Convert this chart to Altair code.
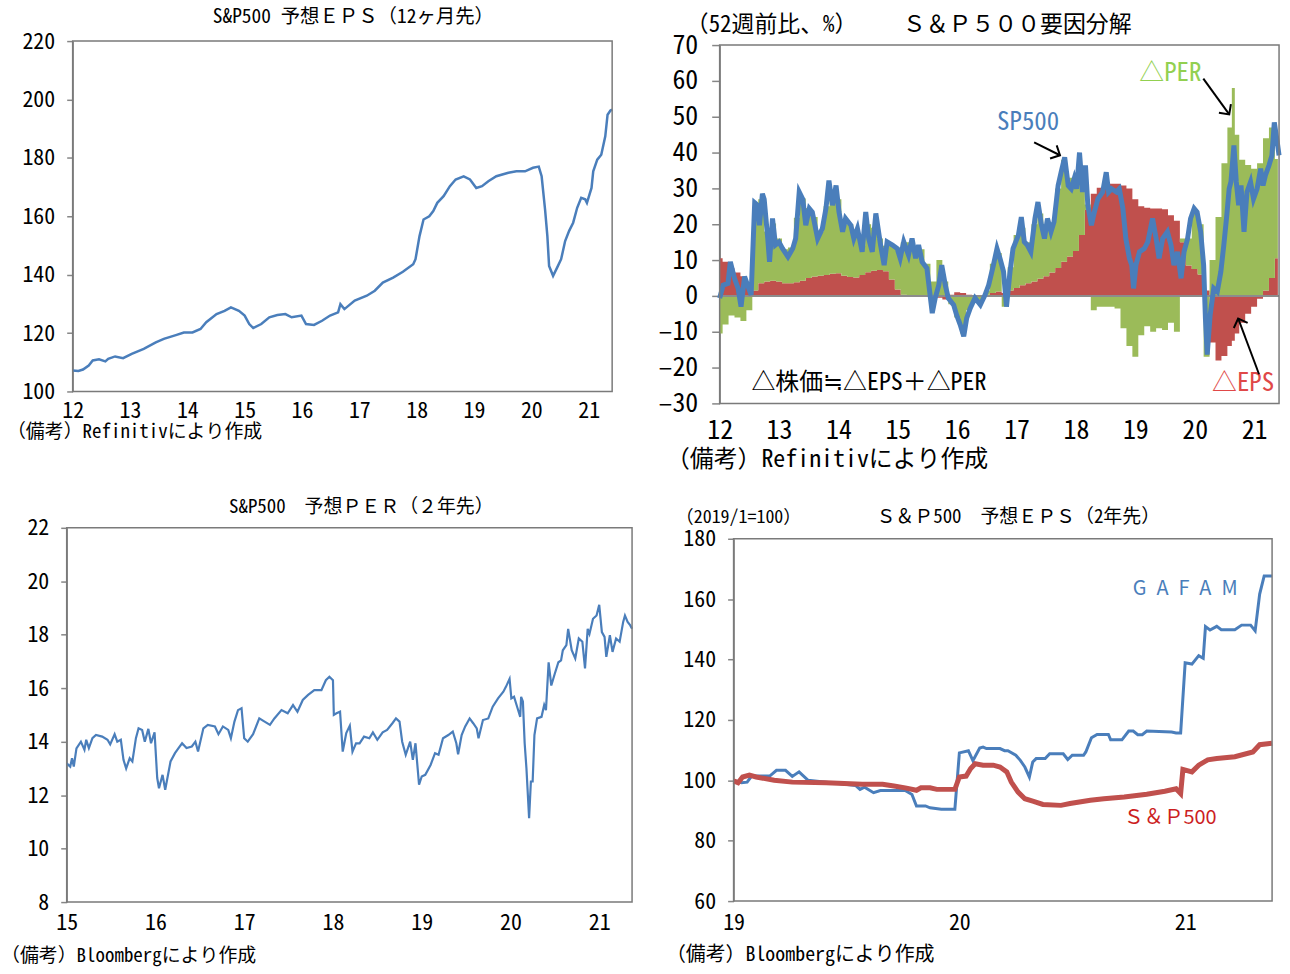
import altair as alt
import pandas as pd

# ---------------- data ----------------
# Panel 1: S&P500 forward EPS (12 months ahead); t = year (12 = 2012)
EPS12_T = [12.0, 12.1, 12.18, 12.28, 12.35, 12.46, 12.57, 12.62, 12.74, 12.88, 13.03, 13.24, 13.45,
           13.59, 13.8, 13.94, 14.09, 14.23, 14.33, 14.51, 14.65, 14.76, 14.9, 15.0, 15.08, 15.15,
           15.29, 15.43, 15.57, 15.71, 15.82, 15.99, 16.07, 16.21, 16.35, 16.49, 16.63, 16.67, 16.74,
           16.92, 17.13, 17.27, 17.41, 17.59, 17.76, 17.94, 17.98, 18.05, 18.12, 18.22, 18.29, 18.36,
           18.47, 18.58, 18.68, 18.82, 18.93, 19.04, 19.14, 19.25, 19.39, 19.6, 19.74, 19.89, 20.03,
           20.13, 20.18, 20.24, 20.28, 20.31, 20.38, 20.45, 20.52, 20.59, 20.66, 20.73, 20.8, 20.87,
           20.94, 20.97, 21.05, 21.08, 21.15, 21.22, 21.29, 21.33, 21.38, 21.41]
EPS12_V = [107.2, 107.0, 107.5, 108.9, 110.6, 111.0, 110.3, 111.2, 112.0, 111.4, 112.9, 114.6, 116.8,
           118.0, 119.3, 120.2, 120.2, 121.4, 123.7, 126.5, 127.6, 128.8, 127.6, 126.0, 123.1, 121.7,
           123.1, 125.4, 126.2, 126.5, 125.4, 126.0, 123.1, 122.8, 124.2, 126.0, 127.1, 129.9, 128.2,
           131.1, 132.8, 134.5, 137.3, 139.0, 141.0, 143.6, 145.3, 153.2, 158.9, 160.0, 161.8, 164.6,
           166.9, 170.3, 172.6, 173.7, 172.6, 169.7, 170.3, 172.0, 173.7, 174.9, 175.4, 175.4, 176.6,
           177.0, 173.7, 162.3, 153.2, 143.0, 139.6, 142.4, 145.3, 151.5, 155.0, 157.8, 162.9, 166.3,
           165.8, 164.6, 169.7, 175.4, 179.4, 181.1, 187.4, 194.8, 196.2, 196.5]

# Panel 2: S&P500 decomposition (52-week change, %)
DEC_T = [12.0, 12.1, 12.2, 12.3, 12.4, 12.5, 12.6, 12.7, 12.8, 12.9, 13.0, 13.1, 13.2, 13.3, 13.4,
         13.5, 13.6, 13.7, 13.8, 13.9, 14.0, 14.1, 14.2, 14.3, 14.4, 14.5, 14.6, 14.7, 14.8, 14.9,
         15.0, 15.1, 15.2, 15.3, 15.4, 15.5, 15.6, 15.7, 15.8, 15.9, 16.0, 16.1, 16.2, 16.3, 16.4,
         16.5, 16.6, 16.7, 16.8, 16.9, 17.0, 17.1, 17.2, 17.3, 17.4, 17.5, 17.6, 17.7, 17.8, 17.9,
         18.0, 18.1, 18.2, 18.3, 18.4, 18.5, 18.6, 18.7, 18.8, 18.9, 19.0, 19.1, 19.2, 19.3, 19.4,
         19.5, 19.6, 19.7, 19.8, 19.9, 20.0, 20.1, 20.2, 20.3, 20.4, 20.5, 20.6, 20.65, 20.7, 20.8,
         20.9, 21.0, 21.1, 21.2, 21.3, 21.4]
DEC_EPS = [10.5, 9.5, 7.7, 6.5, 5.5, 3.0, 1.5, 3.5, 4.0, 4.2, 4.0, 3.5, 3.5, 3.8, 4.2,
           5.0, 5.4, 5.6, 5.8, 6.2, 6.3, 5.6, 5.3, 5.1, 5.8, 6.6, 7.0, 7.2, 6.9, 4.6,
           1.8, 0.3, -0.2, -0.3, 0.0, -0.1, 0.0, -0.5, -1.0, 0.3, 1.0, 0.8, 0.3, 0.0, 0.1,
           0.3, 0.8, 1.2, 0.8, 1.5, 2.2, 3.0, 3.5, 4.0, 4.8, 5.5, 6.5, 7.8, 9.5, 11.0,
           12.5, 17.0, 24.0, 28.5, 30.2, 31.0, 31.3, 31.3, 30.8, 30.0, 27.0, 25.0, 24.6, 24.4, 24.4,
           24.2, 22.5, 21.0, 15.0, 8.5, 7.5, 6.0, 1.5, -13.0, -18.0, -16.8, -14.0, -12.5, -10.5, -7.5,
           -5.0, -3.0, -0.8, 1.5, 5.0, 10.5]
DEC_PER = [-10.5, -8.0, -5.5, -6.0, -7.0, -4.0, 23.0, 23.5, 14.0, 16.0, 12.0, 9.5, 10.0, 18.0, 23.0,
           19.5, 16.6, 12.4, 19.2, 21.8, 20.7, 14.4, 14.7, 12.9, 8.2, 13.4, 12.0, 8.8, 7.1, 9.9,
           11.7, 14.7, 15.0, 14.0, 13.0, 9.0, 4.0, 10.0, 4.0, -2.3, -6.0, -10.5, -4.0, -1.0, -2.0,
           1.2, 8.2, 10.8, -3.0, 6.5, 14.8, 16.0, 11.5, 16.0, 18.2, 14.5, 13.5, 22.2, 28.5, 22.0,
           20.5, 19.0, 1.5, -4.0, -3.0, -3.0, -3.0, -3.5, -9.0, -14.0, -17.0, -11.0, -8.5, -10.0, -9.0,
           -9.5, -7.5, -10.0, 1.0, 7.5, 15.5, 14.0, -17.0, 10.0, 22.0, 37.0, 47.0, 58.0, 45.0, 38.0,
           36.5, 35.5, 37.0, 42.5, 42.0, 27.7]
SP_T = [12.0, 12.06, 12.14, 12.18, 12.25, 12.31, 12.36, 12.42, 12.47, 12.53, 12.59, 12.64, 12.67,
        12.72, 12.75, 12.81, 12.84, 12.89, 12.94, 13.0, 13.06, 13.15, 13.23, 13.28, 13.34, 13.4,
        13.45, 13.51, 13.56, 13.65, 13.73, 13.79, 13.84, 13.9, 13.96, 14.01, 14.07, 14.12, 14.21,
        14.26, 14.32, 14.4, 14.46, 14.51, 14.57, 14.63, 14.71, 14.77, 14.82, 14.91, 14.99, 15.04,
        15.1, 15.18, 15.24, 15.3, 15.35, 15.41, 15.49, 15.58, 15.63, 15.69, 15.74, 15.8, 15.85,
        15.94, 15.99, 16.05, 16.11, 16.16, 16.22, 16.3, 16.39, 16.47, 16.53, 16.61, 16.67, 16.72,
        16.78, 16.83, 16.89, 16.94, 17.03, 17.08, 17.13, 17.18, 17.24, 17.31, 17.36, 17.42, 17.47,
        17.52, 17.58, 17.63, 17.7, 17.75, 17.81, 17.87, 17.92, 17.97, 18.01, 18.06, 18.11, 18.16,
        18.2, 18.26, 18.31, 18.37, 18.45, 18.51, 18.55, 18.6, 18.68, 18.73, 18.79, 18.84, 18.9,
        18.94, 18.97, 19.01, 19.07, 19.15, 19.21, 19.29, 19.35, 19.4, 19.46, 19.54, 19.6, 19.65,
        19.71, 19.77, 19.82, 19.88, 19.93, 19.99, 20.04, 20.1, 20.15, 20.18, 20.21, 20.26, 20.32,
        20.38, 20.44, 20.49, 20.54, 20.58, 20.61, 20.66, 20.7, 20.74, 20.78, 20.83, 20.88, 20.94,
        20.99, 21.05, 21.11, 21.15, 21.19, 21.25, 21.3, 21.34, 21.39, 21.42]
SP_V = [-0.6, 3.0, 3.5, 9.5, 4.9, 2.1, -3.0, 5.4, 3.0, 0.3, 26.0, 25.3, 19.7,
        28.5, 27.0, 16.0, 9.5, 21.6, 14.2, 15.0, 13.2, 10.9, 13.2, 16.0, 29.0, 27.0,
        19.7, 24.4, 23.4, 16.0, 18.8, 24.4, 32.2, 25.3, 30.8, 23.4, 17.9, 21.6, 19.7,
        16.0, 18.8, 12.3, 23.4, 16.0, 12.3, 23.0, 14.2, 8.6, 15.1, 14.2, 13.2, 10.5,
        15.1, 11.4, 16.0, 10.5, 14.2, 9.5, 7.7, -4.8, -0.6, 3.0, 8.6, 3.0, -0.6,
        -2.5, -5.3, -8.0, -11.3, -6.2, -3.4, -0.6, -2.5, 0.3, 3.0, 8.6, 13.2, 10.5,
        6.8, -3.0, 6.8, 13.2, 16.9, 22.0, 15.1, 14.2, 12.3, 21.6, 26.2, 19.7, 16.0,
        21.6, 17.9, 20.6, 30.8, 34.5, 38.7, 30.8, 29.9, 32.7, 29.9, 40.0, 29.0, 36.4,
        25.3, 19.7, 23.4, 27.1, 29.0, 34.5, 29.0, 29.9, 29.0, 29.9, 24.4, 16.0, 10.5,
        8.6, 2.1, 8.6, 12.3, 13.2, 15.1, 21.6, 16.0, 10.5, 16.0, 17.9, 14.2, 8.6,
        12.3, 4.9, 12.3, 16.0, 21.6, 24.4, 23.4, 17.9, 8.6, -6.2, -16.4, -5.3, 2.1,
        1.2, 6.8, 14.2, 22.5, 29.9, 31.8, 42.0, 31.8, 25.3, 30.8, 17.9, 29.0, 31.8,
        27.1, 29.9, 35.5, 30.8, 33.6, 36.4, 39.2, 48.4, 42.9, 39.2]

# Panel 3: S&P500 forward PER (2 years ahead)
PER2_T = [15.0, 15.04, 15.06, 15.08, 15.11, 15.16, 15.2, 15.22, 15.25, 15.29, 15.33, 15.4, 15.46,
          15.49, 15.54, 15.57, 15.61, 15.64, 15.67, 15.71, 15.74, 15.78, 15.81, 15.85, 15.88, 15.92,
          15.95, 15.99, 16.02, 16.04, 16.08, 16.11, 16.17, 16.22, 16.26, 16.3, 16.35, 16.41, 16.45,
          16.48, 16.54, 16.59, 16.67, 16.71, 16.76, 16.82, 16.85, 16.89, 16.93, 16.97, 17.0, 17.04,
          17.1, 17.17, 17.23, 17.29, 17.34, 17.42, 17.49, 17.55, 17.6, 17.66, 17.72, 17.79, 17.87,
          17.92, 17.96, 18.0, 18.01, 18.04, 18.08, 18.11, 18.15, 18.19, 18.22, 18.26, 18.3, 18.35,
          18.41, 18.45, 18.5, 18.56, 18.61, 18.67, 18.71, 18.75, 18.78, 18.82, 18.87, 18.9, 18.93,
          18.97, 19.0, 19.04, 19.1, 19.15, 19.19, 19.24, 19.3, 19.35, 19.39, 19.41, 19.45, 19.49,
          19.54, 19.58, 19.62, 19.64, 19.69, 19.75, 19.8, 19.86, 19.92, 19.95, 19.99, 20.01, 20.04,
          20.08, 20.11, 20.12, 20.14, 20.16, 20.18, 20.21, 20.23, 20.25, 20.27, 20.3, 20.35, 20.38,
          20.4, 20.43, 20.46, 20.5, 20.54, 20.57, 20.59, 20.63, 20.65, 20.69, 20.73, 20.77, 20.81,
          20.84, 20.87, 20.89, 20.93, 20.97, 21.0, 21.03, 21.06, 21.08, 21.12, 21.15, 21.19, 21.23,
          21.27, 21.29, 21.32, 21.35, 21.37]
PER2_V = [13.19, 13.07, 13.38, 13.07, 13.75, 14.0, 13.7, 14.07, 13.76, 14.13, 14.25, 14.19, 14.07,
          13.9, 14.28, 14.0, 14.07, 13.32, 13.0, 13.38, 13.26, 14.13, 14.5, 14.44, 14.0, 14.48,
          13.94, 14.35, 12.64, 12.26, 12.76, 12.2, 13.26, 13.57, 13.76, 13.94, 13.76, 13.82, 14.0,
          13.63, 14.5, 14.63, 14.57, 14.28, 14.57, 14.44, 14.13, 14.75, 15.18, 15.25, 14.13, 14.0,
          14.28, 14.87, 14.75, 14.63, 14.87, 15.18, 15.06, 15.37, 15.12, 15.56, 15.75, 15.93, 15.93,
          16.3, 16.43, 16.3, 15.0, 15.06, 15.12, 13.63, 14.32, 14.6, 13.63, 13.94, 13.94, 14.19,
          14.13, 14.35, 14.07, 14.35, 14.44, 14.69, 14.87, 14.75, 14.0, 13.51, 14.0, 13.32, 13.94,
          12.39, 12.7, 12.76, 13.13, 13.57, 13.51, 14.13, 14.25, 14.38, 13.94, 13.53, 14.25, 14.57,
          14.87, 14.69, 14.5, 14.13, 14.81, 14.87, 15.31, 15.62, 15.87, 16.06, 16.35, 15.62, 15.68,
          15.25, 14.93, 15.68, 15.5, 13.94, 13.0, 11.14, 12.51, 12.51, 14.25, 14.87, 14.93, 15.37,
          15.18, 16.97, 16.1, 16.55, 16.97, 17.04, 17.42, 17.61, 18.22, 17.42, 17.11, 17.86, 17.74,
          16.74, 18.22, 18.03, 18.6, 18.72, 19.12, 18.1, 17.92, 17.17, 17.98, 17.36, 17.86, 17.74,
          18.48, 18.72, 18.48, 18.35, 18.22]

# Panel 4: forward EPS (2 years ahead), 2019/1 = 100
GAFAM_T = [19.0, 19.035, 19.06, 19.08, 19.16, 19.19, 19.23, 19.26, 19.29, 19.33, 19.41, 19.54, 19.56,
           19.58, 19.62, 19.65, 19.76, 19.79, 19.81, 19.85, 19.87, 19.92, 19.98, 20.0, 20.04, 20.06,
           20.09, 20.105, 20.12, 20.18, 20.2, 20.215, 20.25, 20.27, 20.29, 20.31, 20.325, 20.34, 20.38,
           20.4, 20.46, 20.48, 20.5, 20.55, 20.56, 20.585, 20.61, 20.66, 20.67, 20.72, 20.75, 20.77,
           20.79, 20.81, 20.83, 20.94, 20.96, 20.98, 21.0, 21.03, 21.06, 21.08, 21.09, 21.11, 21.14,
           21.16, 21.22, 21.25, 21.29, 21.31, 21.33, 21.35, 21.385]
GAFAM_V = [100.0, 99.2, 99.4, 101.4, 101.4, 103.3, 103.3, 101.3, 102.8, 100.0, 99.4, 98.3, 97.0,
           97.7, 95.9, 96.6, 96.6, 95.3, 91.5, 91.5, 90.9, 90.4, 90.4, 109.1, 109.8, 106.5,
           110.7, 111.0, 110.5, 110.5, 109.8, 109.8, 108.3, 106.6, 104.4, 101.1, 106.1, 107.2, 107.2,
           108.8, 108.8, 106.9, 108.3, 108.3, 109.4, 114.1, 115.2, 115.2, 113.4, 113.4, 116.3, 116.3,
           115.1, 115.1, 116.3, 116.0, 115.7, 115.7, 138.9, 138.5, 141.3, 140.4, 150.9, 149.8, 151.0,
           149.9, 149.9, 151.4, 151.4, 149.5, 161.7, 167.7, 167.7]
SPX_T = [19.0, 19.02, 19.04, 19.07, 19.1, 19.18, 19.26, 19.41, 19.57, 19.66, 19.71, 19.76, 19.81,
         19.83, 19.87, 19.9, 19.98, 20.0, 20.03, 20.05, 20.07, 20.105, 20.15, 20.18, 20.21, 20.23,
         20.26, 20.29, 20.325, 20.37, 20.45, 20.49, 20.58, 20.64, 20.73, 20.83, 20.91, 20.96, 20.98,
         20.99, 21.03, 21.06, 21.1, 21.14, 21.22, 21.3, 21.33, 21.385]
SPX_V = [99.8, 99.2, 101.1, 101.7, 101.1, 100.0, 99.4, 99.2, 98.7, 98.7, 98.1, 97.5, 96.7,
         97.5, 97.5, 97.0, 97.0, 101.1, 101.4, 103.9, 105.5, 105.0, 105.0, 104.4, 102.8, 99.4,
         96.1, 93.9, 93.1, 92.0, 91.7, 92.3, 93.4, 93.9, 94.5, 95.4, 96.4, 97.2, 95.6,
         103.6, 102.8, 105.0, 106.8, 107.2, 107.8, 109.4, 111.8, 112.3]

# axis domains and tick values
P1_X, P1_Y = [12, 21.41], [100, 220]
P2_X, P2_Y = [12, 21.42], [-30, 70]
P3_X, P3_Y = [15, 21.37], [8, 22]
P4_X, P4_Y = [19, 21.385], [60, 180]
P1_XT, P1_YT = list(range(12, 22)), list(range(100, 221, 20))
P2_XT, P2_YT = list(range(12, 22)), list(range(-30, 71, 10))
P3_XT, P3_YT = list(range(15, 22)), list(range(8, 23, 2))
P4_XT, P4_YT = [19, 20, 21], list(range(60, 181, 20))

# annotations of panel 2 (data coordinates)
P2_LABEL_TEXT = ["SP500", "△PER", "△EPS"]
P2_LABEL_T = [17.195, 19.59, 20.815]
P2_LABEL_V = [48.4, 62.3, -24.4]
P2_LABEL_COLOR = ["#4a7ebb", "#92d050", "#e04848"]
ARROW_T0 = [17.296, 20.145, 21.083]
ARROW_V0 = [42.86, 60.64, -21.86]
ARROW_T1 = [17.731, 20.581, 20.731]
ARROW_V1 = [39.25, 50.64, -6.3]
ARROW_ANGLE = [26.6, 54.2, 249.4]
FORMULA = "△株価≒△EPS＋△PER"

# ---------------- styles ----------------
MONO_JP = "'Noto Sans Mono CJK JP', 'Noto Sans CJK JP', sans-serif"
JP = "'Noto Sans CJK JP', sans-serif"
BLUE = "#4a7ebb"
RED = "#c0504d"
GREEN = "#9bbb59"
GRAY = "#868686"
FRAME = "#7a7a7a"


def ptext(s, x, y, size, color="black", align="left", font=MONO_JP):
    return alt.Chart(pd.DataFrame({"s": [s]})).mark_text(
        align=align, baseline="middle", fontSize=size, font=font, color=color
    ).encode(x=alt.value(x), y=alt.value(y), text="s:N")


def xaxis(years, size, pad, off):
    return alt.Axis(values=years, format="d", ticks=False, grid=False, domain=False,
                    labelFont=MONO_JP, labelFontSize=size, labelColor="black",
                    labelPadding=pad, labelFlush=False, labelOverlap=False, title=None, offset=off)


def yaxis(vals, size, tick, pad, off):
    return alt.Axis(values=vals, grid=False, tickSize=tick, tickColor=GRAY, tickWidth=1.5,
                    domainColor=GRAY, domainWidth=1.5, labelFont=MONO_JP, labelFontSize=size,
                    labelColor="black", labelPadding=pad, labelOverlap=False, title=None, offset=off,
                    labelExpr="replace(datum.label, '\u2212', '\u2013')")


def frame(xd, yd):
    return alt.Chart(pd.DataFrame({"x0": [xd[0]], "x1": [xd[1]], "y0": [yd[0]], "y1": [yd[1]]})).mark_rect(
        fillOpacity=0, stroke=FRAME, strokeWidth=1.5).encode(x="x0:Q", x2="x1:Q", y="y0:Q", y2="y1:Q")


# each panel is a box; the plot rectangle (L, T, W, H) sits inside it
# ---------------- panel 1 (box 640 x 476) ----------------
B1W, B1H, L1, T1, W1, H1 = 640, 476, 72, 38, 542, 352
xs1 = alt.Scale(domain=P1_X, range=[L1, L1 + W1], nice=False, zero=False)
ys1 = alt.Scale(domain=P1_Y, range=[T1 + H1, T1], nice=False, zero=False)
line1 = alt.Chart(pd.DataFrame({"t": EPS12_T, "v": EPS12_V})).mark_line(color=BLUE, strokeWidth=2.5).encode(
    x=alt.X("t:Q", scale=xs1, axis=xaxis(P1_XT, 22, 9, -(B1H - T1 - H1))),
    y=alt.Y("v:Q", scale=ys1, axis=yaxis(P1_YT, 22, 6, 12, -L1)))
p1 = alt.layer(
    line1, frame(P1_X, P1_Y),
    ptext("S&P500 予想ＥＰＳ（12ヶ月先）", 354, 14, 19.5, align="center"),
    ptext("（備考）Refinitivにより作成", 6, 431, 19),
).properties(width=B1W, height=B1H)

# ---------------- panel 2 (box 650 x 476) ----------------
B2W, B2H, L2, T2, W2, H2 = 650, 476, 80, 42, 562, 360
n2 = len(DEC_T)
df_area = pd.DataFrame({"t": DEC_T + DEC_T, "v": DEC_EPS + DEC_PER,
                        "s": ["EPS"] * n2 + ["PER"] * n2, "k": [0] * n2 + [1] * n2})
xs2 = alt.Scale(domain=P2_X, range=[L2, L2 + W2], nice=False, zero=False)
ys2 = alt.Scale(domain=P2_Y, range=[T2 + H2, T2], nice=False, zero=False)
area2 = alt.Chart(df_area).mark_area(interpolate="step").encode(
    x=alt.X("t:Q", scale=xs2, axis=xaxis(P2_XT, 26, 14, -(B2H - T2 - H2))),
    y=alt.Y("v:Q", stack="zero", scale=ys2, axis=yaxis(P2_YT, 26, 8, 14, -L2)),
    color=alt.Color("s:N", scale=alt.Scale(domain=["EPS", "PER"], range=[RED, GREEN]), legend=None),
    order=alt.Order("k:Q"))
zero2 = alt.Chart(pd.DataFrame({"a": [P2_X[0]], "b": [P2_X[1]], "v": [0]})).mark_rule(
    color="#8c8c8c", strokeWidth=2).encode(x="a:Q", x2="b:Q", y="v:Q")
sp2 = alt.Chart(pd.DataFrame({"t": SP_T, "v": SP_V})).mark_line(
    color=BLUE, strokeWidth=5).encode(x="t:Q", y="v:Q")
lab2 = alt.Chart(pd.DataFrame({"t": P2_LABEL_T, "v": P2_LABEL_V, "s": P2_LABEL_TEXT,
                               "c": P2_LABEL_COLOR})).mark_text(
    fontSize=25, font=MONO_JP, align="center", baseline="middle").encode(
    x="t:Q", y="v:Q", text="s:N", color=alt.Color("c:N", scale=None))
formula2 = alt.Chart(pd.DataFrame({"t": [12.536], "v": [-24.4], "s": [FORMULA]})).mark_text(
    fontSize=24, font=MONO_JP, align="left", baseline="middle", color="black").encode(
    x="t:Q", y="v:Q", text="s:N")
adf = pd.DataFrame({"t0": ARROW_T0, "v0": ARROW_V0, "t1": ARROW_T1, "v1": ARROW_V1, "ang": ARROW_ANGLE})
shaft2 = alt.Chart(adf).mark_rule(color="black", strokeWidth=2).encode(
    x="t0:Q", y="v0:Q", x2="t1:Q", y2="v1:Q")
head2 = alt.Chart(adf).mark_point(shape="M-1,-1L0,0L-1,1", filled=False, color="black",
                                  strokeWidth=2, size=220, opacity=1).encode(
    x="t1:Q", y="v1:Q", angle=alt.Angle("ang:Q", scale=None))
p2 = alt.layer(
    area2, zero2, sp2, frame(P2_X, P2_Y), lab2, formula2, shaft2, head2,
    ptext("（52週前比、%）", 46, 22, 23),
    ptext("Ｓ＆Ｐ５００要因分解", 264, 22, 23),
    ptext("（備考）Refinitivにより作成", 26, 459, 24),
).properties(width=B2W, height=B2H)

# ---------------- panel 3 (box 645 x 494) ----------------
B3W, B3H, L3, T3, W3, H3 = 645, 494, 66, 45, 568, 376
xs3 = alt.Scale(domain=P3_X, range=[L3, L3 + W3], nice=False, zero=False)
ys3 = alt.Scale(domain=P3_Y, range=[T3 + H3, T3], nice=False, zero=False)
line3 = alt.Chart(pd.DataFrame({"t": PER2_T, "v": PER2_V})).mark_line(
    color=BLUE, strokeWidth=2.2).encode(
    x=alt.X("t:Q", scale=xs3, axis=xaxis(P3_XT, 22, 11, -(B3H - T3 - H3))),
    y=alt.Y("v:Q", scale=ys3, axis=yaxis(P3_YT, 22, 6, 12, -L3)))
p3 = alt.layer(
    line3, frame(P3_X, P3_Y),
    ptext("S&P500　予想ＰＥＲ（２年先）", 362, 24, 19, align="center"),
    ptext("（備考）Bloombergにより作成", 0, 475, 19),
).properties(width=B3W, height=B3H)

# ---------------- panel 4 (box 645 x 494) ----------------
B4W, B4H, L4, T4, W4, H4 = 645, 494, 89, 56, 541, 364
xs4 = alt.Scale(domain=P4_X, range=[L4, L4 + W4], nice=False, zero=False)
ys4 = alt.Scale(domain=P4_Y, range=[T4 + H4, T4], nice=False, zero=False)
g4 = alt.Chart(pd.DataFrame({"t": GAFAM_T, "v": GAFAM_V})).mark_line(
    color=BLUE, strokeWidth=3).encode(
    x=alt.X("t:Q", scale=xs4, axis=xaxis(P4_XT, 22, 12, -(B4H - T4 - H4))),
    y=alt.Y("v:Q", scale=ys4, axis=yaxis(P4_YT, 22, 6, 12, -L4)))
s4 = alt.Chart(pd.DataFrame({"t": SPX_T, "v": SPX_V})).mark_line(
    color=RED, strokeWidth=5).encode(x="t:Q", y="v:Q")
lab4 = alt.Chart(pd.DataFrame({"t": [21.0, 20.934], "v": [163.3, 87.5],
                               "s": ["G\u2002A\u2002F\u2002A\u2002M", "Ｓ＆Ｐ500"],
                               "c": [BLUE, "#cc1f1f"]})).mark_text(
    fontSize=20, font=JP, align="center", baseline="middle").encode(
    x="t:Q", y="v:Q", text="s:N", color=alt.Color("c:N", scale=None))
p4 = alt.layer(
    g4, s4, frame(P4_X, P4_Y), lab4,
    ptext("（2019/1=100）", 31, 35, 18),
    ptext("Ｓ＆Ｐ500　予想ＥＰＳ（2年先）", 375, 34, 19, align="center"),
    ptext("（備考）Bloombergにより作成", 21, 474, 20),
).properties(width=B4W, height=B4H)

row1 = alt.hconcat(p1, p2, spacing=0)
row2 = alt.hconcat(p3, p4, spacing=0)
chart = alt.vconcat(row1, row2, spacing=4).properties(
    padding=0, background="white"
).configure_view(stroke="transparent", fill="white")

chart.save("out.html", embed_options={"renderer": "svg", "actions": False})
